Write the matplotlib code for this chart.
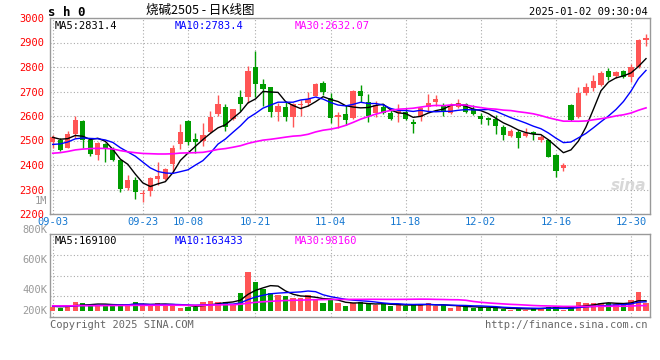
import matplotlib
matplotlib.use("Agg")

import numpy as np
import pandas as pd
import matplotlib.pyplot as plt

# ── data ─────────────────────────────────────────────────────────────────────
dates = (
    ["09-03", "09-04", "09-05", "09-06", "09-09", "09-10", "09-11", "09-12", "09-13",
     "09-18", "09-19", "09-20", "09-23", "09-24", "09-25", "09-26", "09-27", "09-30"]
    + ["10-08", "10-09", "10-10", "10-11", "10-14", "10-15", "10-16", "10-17", "10-18",
       "10-21", "10-22", "10-23", "10-24", "10-25", "10-28", "10-29", "10-30", "10-31"]
    + ["11-01", "11-04", "11-05", "11-06", "11-07", "11-08", "11-11", "11-12", "11-13",
       "11-14", "11-15", "11-18", "11-19", "11-20", "11-21", "11-22", "11-25", "11-26",
       "11-27", "11-28", "11-29"]
    + ["12-02", "12-03", "12-04", "12-05", "12-06", "12-09", "12-10", "12-11", "12-12",
       "12-13", "12-16", "12-17", "12-18", "12-19", "12-20", "12-23", "12-24", "12-25",
       "12-26", "12-27", "12-30", "12-31"]
    + ["01-02"]
)
tick_labels = ["09-03", "09-23", "10-08", "10-21", "11-04", "11-18", "12-02", "12-16", "12-30"]

open_ = [2495, 2502, 2471, 2527, 2580, 2502, 2441, 2486, 2465, 2420,
         2305, 2339, 2282, 2295, 2343, 2343, 2404, 2486, 2581, 2506,
         2499, 2536, 2608, 2636, 2587, 2676, 2676, 2799, 2731, 2717,
         2618, 2636, 2597, 2643, 2652, 2683, 2733, 2672, 2597, 2608,
         2590, 2703, 2656, 2611, 2638, 2613, 2611, 2618, 2577, 2595,
         2636, 2659, 2641, 2611, 2636, 2649, 2627, 2600, 2590, 2588,
         2556, 2518, 2536, 2518, 2536, 2502, 2500, 2441, 2386, 2645,
         2597, 2693, 2713, 2727, 2784, 2765, 2784, 2761, 2799, 2910]
high = [2522, 2510, 2540, 2600, 2584, 2509, 2495, 2491, 2475, 2422,
        2359, 2352, 2298, 2349, 2414, 2386, 2482, 2567, 2582, 2529,
        2570, 2620, 2686, 2649, 2630, 2706, 2804, 2866, 2750, 2720,
        2652, 2658, 2652, 2665, 2700, 2735, 2741, 2693, 2618, 2645,
        2705, 2727, 2690, 2661, 2648, 2627, 2649, 2632, 2587, 2636,
        2690, 2686, 2654, 2652, 2669, 2654, 2645, 2611, 2597, 2604,
        2563, 2546, 2543, 2550, 2538, 2522, 2505, 2445, 2407, 2648,
        2720, 2733, 2767, 2782, 2795, 2782, 2788, 2811, 2914, 2933]
low = [2470, 2458, 2468, 2510, 2470, 2437, 2420, 2414, 2415, 2290,
       2300, 2261, 2250, 2275, 2318, 2340, 2366, 2464, 2482, 2450,
       2478, 2532, 2600, 2540, 2584, 2622, 2654, 2679, 2642, 2597,
       2581, 2581, 2556, 2600, 2641, 2680, 2686, 2573, 2550, 2563,
       2588, 2658, 2577, 2595, 2608, 2584, 2577, 2584, 2529, 2581,
       2618, 2641, 2600, 2607, 2632, 2611, 2604, 2567, 2563, 2527,
       2502, 2513, 2471, 2513, 2502, 2495, 2433, 2350, 2377, 2580,
       2593, 2686, 2702, 2724, 2747, 2757, 2757, 2740, 2795, 2887]
close = [2513, 2461, 2527, 2584, 2502, 2445, 2488, 2465, 2420, 2302,
         2339, 2288, 2286, 2346, 2356, 2384, 2471, 2536, 2495, 2495,
         2522, 2597, 2649, 2557, 2629, 2649, 2784, 2729, 2710, 2618,
         2641, 2597, 2649, 2647, 2668, 2731, 2699, 2593, 2604, 2584,
         2703, 2682, 2600, 2645, 2611, 2587, 2620, 2587, 2567, 2632,
         2654, 2669, 2618, 2645, 2654, 2615, 2608, 2588, 2584, 2559,
         2522, 2540, 2509, 2532, 2527, 2513, 2434, 2377, 2400, 2584,
         2693, 2720, 2741, 2777, 2761, 2779, 2761, 2801, 2910, 2920]
# volume in thousands of lots
volume_k = [63, 46, 102, 158, 136, 97, 97, 97, 119, 119,
            85, 158, 97, 97, 141, 97, 119, 56, 63, 63,
            158, 175, 158, 158, 119, 311, 668, 498, 369, 311,
            272, 255, 216, 226, 272, 199, 141, 182, 136, 85,
            136, 153, 124, 97, 114, 85, 124, 80, 114, 107,
            136, 80, 97, 56, 80, 68, 56, 68, 51, 51,
            29, 22, 56, 22, 51, 51, 68, 68, 22, 68,
            153, 136, 136, 136, 136, 114, 114, 182, 323, 136]

# closes / volumes of the 29 sessions before 09-03 (only feed the moving averages)
prev_close = [2390, 2380, 2395, 2400, 2385, 2460, 2475, 2490, 2495, 2485,
              2400, 2380, 2375, 2390, 2385, 2440, 2455, 2470, 2470, 2480,
              2440, 2450, 2455, 2465, 2465, 2500, 2515, 2520, 2517]
prev_volume_k = [80, 95, 90, 85, 100, 90, 75, 85, 95, 100,
                 90, 80, 85, 95, 105, 90, 85, 80, 95, 100,
                 90, 85, 80, 90, 95, 85, 80, 90, 85]

RED = "#ff5555"
GREEN = "#009c00"
GRID = "#aaaaaa"
FRAME = "#999999"
MONO = "DejaVu Sans Mono"

n = len(close)
x = np.arange(n)
o = np.array(open_, float)
c = np.array(close, float)
h = np.array(high, float)
l = np.array(low, float)
vol = np.array(volume_k, float) * 1000
colors = np.where(c >= o, RED, GREEN)

all_close = pd.Series(prev_close + close, dtype=float)
all_vol = pd.Series(prev_volume_k + volume_k, dtype=float) * 1000
k = len(prev_close)
ma = {w: all_close.rolling(w).mean().to_numpy()[k:] for w in (5, 10, 30)}
vma = {w: all_vol.rolling(w).mean().to_numpy()[k:] for w in (5, 10, 30)}
tick_pos = [dates.index(t) for t in tick_labels]

plt.rcParams["font.family"] = [MONO]
fig = plt.figure(figsize=(6.6, 3.6), dpi=100)
W, H = 660, 360
ax = fig.add_axes([50 / W, 1 - 214 / H, 600 / W, 196 / H])
axv = fig.add_axes([50 / W, 1 - 317 / H, 600 / W, 83 / H])

# ── price panel ──────────────────────────────────────────────────────────────
ax.vlines(x, l, h, colors=colors, lw=1, zorder=2)
ax.bar(x, np.maximum(np.abs(c - o), 2), bottom=np.minimum(o, c), width=0.7,
       color=colors, zorder=3)
ax.plot(x, ma[5], color="black", lw=1, zorder=4)
ax.plot(x, ma[10], color="#0000ff", lw=1, zorder=4)
ax.plot(x, ma[30], color="#ff00ff", lw=1.2, zorder=4)
ax.set_xlim(-0.36, 79.53)
ax.set_ylim(2200, 3000)
ax.set_yticks(range(2200, 3001, 100))
ax.tick_params(axis="y", length=0, pad=4, labelcolor="red", labelsize=7.5)
ax.set_xticks(tick_pos)
ax.set_xticklabels(tick_labels)
ax.tick_params(axis="x", length=0, pad=2, labelcolor="#1577d0", labelsize=7.5)
ax.grid(True, ls=(0, (1, 2)), color=GRID, lw=0.8)
ax.set_axisbelow(True)

ax.text(0.008, 0.985, "MA5:2831.4", transform=ax.transAxes, color="black",
        fontsize=7.5, va="top")
ax.text(0.208, 0.985, "MA10:2783.4", transform=ax.transAxes, color="#0000ff",
        fontsize=7.5, va="top")
ax.text(0.408, 0.985, "MA30:2632.07", transform=ax.transAxes, color="#ff00ff",
        fontsize=7.5, va="top")
ax.text(0.965, 0.12, "sina", transform=ax.transAxes, color="#d8d8d8",
        fontsize=11, fontweight="bold", style="italic", ha="center", family="DejaVu Sans")

# ── volume panel ─────────────────────────────────────────────────────────────
axv.bar(x, vol, width=0.7, color=colors, zorder=3)
axv.plot(x, vma[5], color="black", lw=1, zorder=4)
axv.plot(x, vma[10], color="#0000ff", lw=1, zorder=4)
axv.plot(x, vma[30], color="#ff00ff", lw=1.2, zorder=4)
axv.set_xlim(-0.36, 79.53)
vlo, vhi = -102000, 1309000
axv.set_ylim(vlo, vhi)
axv.set_yticks([vlo + f * (vhi - vlo) for f in (0.25, 0.5, 0.75)])
axv.set_yticklabels([])
axv.set_xticks(tick_pos)
axv.set_xticklabels([])
axv.tick_params(length=0)
axv.grid(True, ls=(0, (1, 2)), color=GRID, lw=0.8)
axv.set_axisbelow(True)

axv.text(0.008, 0.97, "MA5:169100", transform=axv.transAxes, color="black",
         fontsize=7.5, va="top")
axv.text(0.208, 0.97, "MA10:163433", transform=axv.transAxes, color="#0000ff",
         fontsize=7.5, va="top")
axv.text(0.408, 0.97, "MA30:98160", transform=axv.transAxes, color="#ff00ff",
         fontsize=7.5, va="top")

for a in (ax, axv):
    for s in a.spines.values():
        s.set_color(FRAME)
        s.set_linewidth(1)

# volume scale labels sit where the site draws them
for lab, py in [("1M", 201), ("800K", 230), ("600K", 260), ("400K", 290), ("200K", 311)]:
    fig.text(47 / W, 1 - py / H, lab, ha="right", va="center", color="#999999", fontsize=7.5)

# ── header / footer ──────────────────────────────────────────────────────────
fig.text(48 / W, 1 - 12 / H, "s h 0", fontsize=9, fontweight="bold", va="center")
fig.text(200 / W, 1 - 10 / H, "烧碱2505 - 日K线图", ha="center", va="center",
         fontsize=9, family=["Noto Sans CJK SC", MONO])
fig.text(648 / W, 1 - 12 / H, "2025-01-02 09:30:04", ha="right", va="center", fontsize=7.5)
fig.text(50 / W, 1 - 325 / H, "Copyright 2025 SINA.COM", va="center",
         color="#666666", fontsize=7.5)
fig.text(648 / W, 1 - 325 / H, "http://finance.sina.com.cn", ha="right", va="center",
         color="#666666", fontsize=7.5)

fig.savefig("out.png", dpi=100)
